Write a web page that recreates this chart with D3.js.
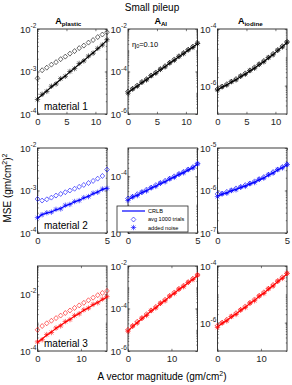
<!DOCTYPE html>
<html>
<head>
<meta charset="utf-8">
<script src="https://cdnjs.cloudflare.com/ajax/libs/d3/7.8.5/d3.min.js"></script>
<style>
body { margin: 0; background: #fff; }
svg { display: block; font-family: "Liberation Sans", Arial, sans-serif; }
</style>
</head>
<body>
<svg id="chart" width="292" height="385"></svg>
<script>
// x values (A vector magnitude) per material row
var xMaterial1 = [0, 0.8, 1.6, 2.4, 3.2, 4, 4.8, 5.6, 6.4, 7.2, 8, 8.8, 9.6, 10.4, 11.2, 12];
var xMaterial2 = [0, 0.33, 0.67, 1, 1.33, 1.67, 2, 2.33, 2.67, 3, 3.33, 3.67, 4, 4.33, 4.67, 5];
var xMaterial3 = [0, 1.07, 2.13, 3.2, 4.27, 5.33, 6.4, 7.47, 8.53, 9.6, 10.67, 11.73, 12.8, 13.87, 14.93, 16];

// material 1
var crlb1Plastic = [2.3e-4, 2.8e-4, 3.5e-4, 4.3e-4, 5.3e-4, 6.5e-4, 7.9e-4, 9.8e-4, 1.2e-3, 1.48e-3, 1.82e-3, 2.24e-3, 2.75e-3, 3.4e-3, 4.3e-3, 5.4e-3];
var avg1Plastic = [6.9e-4, 1.07e-3, 1.23e-3, 1.45e-3, 1.66e-3, 1.95e-3, 2.24e-3, 2.63e-3, 3.02e-3, 3.55e-3, 4.07e-3, 4.79e-3, 5.5e-3, 6.46e-3, 7.41e-3, 8.4e-3];
var noise1Plastic = [2.2e-4, 2.9e-4, 3.4e-4, 4.5e-4, 5.1e-4, 6.8e-4, 7.7e-4, 1.0e-3, 1.17e-3, 1.55e-3, 1.78e-3, 2.3e-3, 2.7e-3, 3.5e-3, 4.2e-3, 5.6e-3];
var crlb1Al = [1.02e-5, 1.45e-5, 2.09e-5, 2.95e-5, 4.17e-5, 6.03e-5, 8.51e-5, 1.2e-4, 1.7e-4, 2.45e-4, 3.47e-4, 4.9e-4, 7.08e-4, 1.0e-3, 1.41e-3, 2.0e-3];
var avg1Al = [1.15e-5, 1.55e-5, 2.2e-5, 3.2e-5, 4.4e-5, 6.5e-5, 9.0e-5, 1.3e-4, 1.8e-4, 2.6e-4, 3.7e-4, 5.2e-4, 7.5e-4, 1.06e-3, 1.5e-3, 2.15e-3];
var noise1Al = [0.95e-5, 1.5e-5, 2.0e-5, 3.1e-5, 4.0e-5, 6.3e-5, 8.2e-5, 1.25e-4, 1.65e-4, 2.55e-4, 3.35e-4, 5.1e-4, 6.9e-4, 1.04e-3, 1.36e-3, 2.08e-3];
var crlb1Iodine = [7.2e-7, 8.8e-7, 1.08e-6, 1.33e-6, 1.65e-6, 2.07e-6, 2.6e-6, 3.3e-6, 4.24e-6, 5.48e-6, 7.18e-6, 9.5e-6, 1.27e-5, 1.73e-5, 2.38e-5, 3.33e-5];
var avg1Iodine = [7.6e-7, 9.3e-7, 1.13e-6, 1.4e-6, 1.72e-6, 2.18e-6, 2.72e-6, 3.45e-6, 4.45e-6, 5.7e-6, 7.5e-6, 9.9e-6, 1.33e-5, 1.8e-5, 2.48e-5, 3.5e-5];
var noise1Iodine = [7.0e-7, 9.1e-7, 1.04e-6, 1.38e-6, 1.6e-6, 2.15e-6, 2.52e-6, 3.42e-6, 4.1e-6, 5.65e-6, 6.95e-6, 9.8e-6, 1.23e-5, 1.78e-5, 2.3e-5, 3.45e-5];

// material 2
var crlb2Plastic = [2.22e-4, 2.75e-4, 2.91e-4, 3.17e-4, 3.48e-4, 3.81e-4, 4.32e-4, 4.81e-4, 5.36e-4, 5.97e-4, 6.55e-4, 7.43e-4, 8.28e-4, 9.38e-4, 1.05e-3, 1.16e-3];
var avg2Plastic = [6.3e-4, 5.8e-4, 6.2e-4, 6.8e-4, 7.6e-4, 8.3e-4, 9.1e-4, 1.0e-3, 1.1e-3, 1.22e-3, 1.35e-3, 1.5e-3, 1.68e-3, 1.9e-3, 2.2e-3, 3.1e-3];
var noise2Plastic = [2.3e-4, 2.7e-4, 3.0e-4, 3.1e-4, 3.6e-4, 3.7e-4, 4.5e-4, 4.7e-4, 5.5e-4, 5.8e-4, 6.8e-4, 7.2e-4, 8.6e-4, 9.1e-4, 1.08e-3, 1.12e-3];
var crlb2Al = [1.45e-5, 1.82e-5, 2.19e-5, 2.63e-5, 3.16e-5, 3.8e-5, 4.57e-5, 5.5e-5, 6.6e-5, 7.94e-5, 9.55e-5, 1.15e-4, 1.38e-4, 1.66e-4, 2.04e-4, 2.69e-4];
var avg2Al = [1.65e-5, 1.9e-5, 2.35e-5, 2.75e-5, 3.4e-5, 4.0e-5, 4.9e-5, 5.8e-5, 7.0e-5, 8.3e-5, 1.0e-4, 1.2e-4, 1.45e-4, 1.74e-4, 2.12e-4, 2.8e-4];
var noise2Al = [1.4e-5, 1.9e-5, 2.1e-5, 2.75e-5, 3.05e-5, 3.95e-5, 4.4e-5, 5.7e-5, 6.4e-5, 8.2e-5, 9.2e-5, 1.19e-4, 1.33e-4, 1.72e-4, 1.98e-4, 2.78e-4];
var crlb2Iodine = [7.41e-7, 8.13e-7, 8.91e-7, 9.77e-7, 1.07e-6, 1.17e-6, 1.29e-6, 1.41e-6, 1.58e-6, 1.78e-6, 2.0e-6, 2.29e-6, 2.63e-6, 3.02e-6, 3.47e-6, 3.98e-6];
var avg2Iodine = [8.3e-7, 8.4e-7, 9.3e-7, 1.01e-6, 1.12e-6, 1.21e-6, 1.34e-6, 1.46e-6, 1.64e-6, 1.84e-6, 2.07e-6, 2.37e-6, 2.72e-6, 3.12e-6, 3.58e-6, 4.1e-6];
var noise2Iodine = [7.2e-7, 8.4e-7, 8.6e-7, 1.0e-6, 1.04e-6, 1.2e-6, 1.25e-6, 1.45e-6, 1.54e-6, 1.83e-6, 1.95e-6, 2.35e-6, 2.57e-6, 3.1e-6, 3.4e-6, 4.08e-6];

// material 3
var crlb3Plastic = [2.0e-4, 2.69e-4, 3.59e-4, 4.73e-4, 6.19e-4, 8.05e-4, 1.04e-3, 1.33e-3, 1.7e-3, 2.15e-3, 2.7e-3, 3.39e-3, 4.23e-3, 5.25e-3, 6.49e-3, 7.98e-3];
var avg3Plastic = [5.6e-4, 7.6e-4, 9.5e-4, 1.17e-3, 1.45e-3, 1.78e-3, 2.19e-3, 2.69e-3, 3.31e-3, 4.07e-3, 5.01e-3, 6.17e-3, 7.59e-3, 9.33e-3, 1.12e-2, 1.32e-2];
var noise3Plastic = [2.1e-4, 2.5e-4, 3.8e-4, 4.5e-4, 6.5e-4, 7.7e-4, 1.09e-3, 1.28e-3, 1.78e-3, 2.06e-3, 2.83e-3, 3.25e-3, 4.4e-3, 5.05e-3, 6.8e-3, 8.3e-3];
var crlb3Al = [8.9e-6, 1.41e-5, 2.19e-5, 3.31e-5, 5.01e-5, 7.59e-5, 1.12e-4, 1.66e-4, 2.45e-4, 3.63e-4, 5.37e-4, 7.76e-4, 1.12e-3, 1.62e-3, 2.4e-3, 3.55e-3];
var avg3Al = [1.0e-5, 1.5e-5, 2.4e-5, 3.5e-5, 5.4e-5, 8.1e-5, 1.2e-4, 1.78e-4, 2.6e-4, 3.9e-4, 5.7e-4, 8.3e-4, 1.19e-3, 1.73e-3, 2.55e-3, 3.8e-3];
var noise3Al = [8.5e-6, 1.5e-5, 2.05e-5, 3.5e-5, 4.7e-5, 8.0e-5, 1.06e-4, 1.75e-4, 2.3e-4, 3.85e-4, 5.1e-4, 8.2e-4, 1.06e-3, 1.7e-3, 2.3e-3, 3.75e-3];
var crlb3Iodine = [7.24e-7, 9.33e-7, 1.21e-6, 1.57e-6, 2.05e-6, 2.69e-6, 3.55e-6, 4.7e-6, 6.25e-6, 8.36e-6, 1.12e-5, 1.51e-5, 2.05e-5, 2.79e-5, 3.82e-5, 5.25e-5];
var avg3Iodine = [7.8e-7, 1.0e-6, 1.28e-6, 1.66e-6, 2.16e-6, 2.84e-6, 3.74e-6, 4.95e-6, 6.6e-6, 8.8e-6, 1.18e-5, 1.59e-5, 2.15e-5, 2.93e-5, 4.0e-5, 5.5e-5];
var noise3Iodine = [6.8e-7, 9.8e-7, 1.15e-6, 1.65e-6, 1.95e-6, 2.82e-6, 3.4e-6, 4.95e-6, 5.95e-6, 8.8e-6, 1.07e-5, 1.58e-5, 1.96e-5, 2.92e-5, 3.65e-5, 5.5e-5];

// axes ranges and tick labels
var xMax = [12, 5, 16];
var xTicks = [[0, 5, 10], [0, 5], [0, 10]];
var yDomains = [
    [[1e-4, 1e-2], [1e-6, 1e-2], [1e-7, 1e-4]],
    [[1e-4, 1e-2], [1e-6, 1e-3], [1e-7, 1e-5]],
    [[1e-4, 1e-1], [1e-6, 1e-2], [1e-7, 1e-4]]
];
var yTicks = [
    [[1e-4, 1e-3, 1e-2], [1e-6, 1e-4, 1e-2], [1e-6, 1e-4]],
    [[1e-4, 1e-3, 1e-2], [1e-6, 1e-4], [1e-7, 1e-6, 1e-5]],
    [[1e-4, 1e-2], [1e-6, 1e-4, 1e-2], [1e-6, 1e-4]]
];

var colTitles = [["A", "plastic"], ["A", "Al"], ["A", "iodine"]];
var materialLabels = ["material 1", "material 2", "material 3"];
var rowColors = ["#000000", "#0000ff", "#ff0000"];
var legendLabels = ["CRLB", "avg 1000 trials", "added noise"];

var xValues = [xMaterial1, xMaterial2, xMaterial3];
var crlb = [[crlb1Plastic, crlb1Al, crlb1Iodine], [crlb2Plastic, crlb2Al, crlb2Iodine], [crlb3Plastic, crlb3Al, crlb3Iodine]];
var avgTrials = [[avg1Plastic, avg1Al, avg1Iodine], [avg2Plastic, avg2Al, avg2Iodine], [avg3Plastic, avg3Al, avg3Iodine]];
var addedNoise = [[noise1Plastic, noise1Al, noise1Iodine], [noise2Plastic, noise2Al, noise2Iodine], [noise3Plastic, noise3Al, noise3Iodine]];

var svg = d3.select("#chart");
var colLeft = [37.5, 128, 217.5];
var rowTop = [29, 148, 266];
var panelW = 69.5, panelH = 85;
var axisColor = "#262626";

var diamondPath = "M0,-2.5L2.3,0L0,2.5L-2.3,0Z";
var starPath = "M-2.7,0H2.7M0,-2.7V2.7M-1.9,-1.9L1.9,1.9M-1.9,1.9L1.9,-1.9";

for (var r = 0; r < 3; r++) {
    for (var c = 0; c < 3; c++) {
        drawPanel(r, c);
    }
}
drawTitles();
drawLegend();

function minorTicks(domain) {
    var out = [];
    var lo = Math.round(Math.log10(domain[0])), hi = Math.round(Math.log10(domain[1]));
    for (var e = lo; e < hi; e++) {
        for (var k = 1; k < 10; k++) {
            out.push(k * Math.pow(10, e));
        }
    }
    return out;
}

function styleAxis(g) {
    g.select(".domain").remove();
    g.selectAll("line").attr("stroke", axisColor).attr("stroke-width", 0.6);
    g.attr("font-family", null).attr("font-size", null);
}

function drawPanel(r, c) {
    var g = svg.append("g").attr("transform", "translate(" + colLeft[c] + "," + rowTop[r] + ")");
    var x = d3.scaleLinear().domain([0, xMax[r]]).range([0, panelW]);
    var y = d3.scaleLog().domain(yDomains[r][c]).range([panelH, 0]);
    var color = rowColors[r];
    var xs = xValues[r];
    var minor = minorTicks(yDomains[r][c]);

    g.append("g").call(d3.axisLeft(y).tickValues(minor).tickSize(-1.2).tickFormat("")).call(styleAxis);
    g.append("g").attr("transform", "translate(" + panelW + ",0)")
        .call(d3.axisRight(y).tickValues(minor).tickSize(-1.2).tickFormat("")).call(styleAxis);

    var yAxis = g.append("g")
        .call(d3.axisLeft(y).tickValues(yTicks[r][c]).tickSize(-2.2).tickPadding(1.2))
        .call(styleAxis);
    yAxis.selectAll(".tick text").each(function(d) {
        var t = d3.select(this);
        t.text(null).attr("fill", axisColor).attr("font-size", 9.5).attr("dy", "0.36em");
        t.append("tspan").text("10");
        t.append("tspan").attr("font-size", 6.5).attr("dy", "-0.75em").text(Math.round(Math.log10(d)));
    });
    g.append("g").attr("transform", "translate(" + panelW + ",0)")
        .call(d3.axisRight(y).tickValues(yTicks[r][c]).tickSize(-2.2).tickFormat(""))
        .call(styleAxis);

    var xAxis = g.append("g").attr("transform", "translate(0," + panelH + ")")
        .call(d3.axisBottom(x).tickValues(xTicks[r]).tickSize(-2.2).tickPadding(4.5).tickFormat(d3.format("d")))
        .call(styleAxis);
    xAxis.selectAll(".tick text").attr("fill", axisColor).attr("font-size", 9.5);
    g.append("g")
        .call(d3.axisTop(x).tickValues(xTicks[r]).tickSize(-2.2).tickFormat(""))
        .call(styleAxis);

    g.append("rect")
        .attr("width", panelW)
        .attr("height", panelH)
        .attr("fill", "none")
        .attr("stroke", axisColor)
        .attr("stroke-width", 0.9);

    var line = d3.line()
        .x(function(d, i) { return x(xs[i]); })
        .y(function(d) { return y(d); });

    g.append("path")
        .attr("d", line(crlb[r][c]))
        .attr("fill", "none")
        .attr("stroke", color)
        .attr("stroke-width", 1.2);

    g.selectAll("path.avg").data(avgTrials[r][c]).enter().append("path")
        .attr("class", "avg")
        .attr("transform", function(d, i) { return "translate(" + x(xs[i]) + "," + y(d) + ")"; })
        .attr("d", diamondPath)
        .attr("fill", "none")
        .attr("stroke", color)
        .attr("stroke-width", 0.6);

    g.selectAll("path.noise").data(addedNoise[r][c]).enter().append("path")
        .attr("class", "noise")
        .attr("transform", function(d, i) { return "translate(" + x(xs[i]) + "," + y(d) + ")"; })
        .attr("d", starPath)
        .attr("fill", "none")
        .attr("stroke", color)
        .attr("stroke-width", 0.6);

    if (c == 0) {
        g.append("text")
            .attr("x", 6.5)
            .attr("y", panelH - 4.5)
            .attr("font-size", 10)
            .attr("fill", "#000")
            .text(materialLabels[r]);
    }
}

function drawTitles() {
    svg.append("text")
        .attr("x", 152)
        .attr("y", 10.5)
        .attr("text-anchor", "middle")
        .attr("font-size", 10)
        .attr("fill", "#000")
        .text("Small pileup");

    var shift = [-4, -2, -2];
    colTitles.forEach(function(t, i) {
        var txt = svg.append("text")
            .attr("x", colLeft[i] + panelW / 2 + shift[i])
            .attr("y", 23.5)
            .attr("text-anchor", "middle")
            .attr("font-weight", "bold")
            .attr("font-size", 9)
            .attr("fill", "#000");
        txt.append("tspan").text(t[0]);
        txt.append("tspan").attr("font-size", 6.2).attr("dy", 2).text(t[1]);
    });

    var eta = svg.append("text")
        .attr("x", 132)
        .attr("y", 46.5)
        .attr("font-size", 7.5)
        .attr("fill", "#000");
    eta.append("tspan").text("\u03b7");
    eta.append("tspan").attr("font-size", 5.5).attr("dy", 1.5).text("0");
    eta.append("tspan").attr("dy", -1.5).text("=0.10");

    var ylab = svg.append("text")
        .attr("transform", "translate(11,188) rotate(-90)")
        .attr("text-anchor", "middle")
        .attr("font-size", 10)
        .attr("fill", "#000");
    ylab.append("tspan").text("MSE (gm/cm");
    ylab.append("tspan").attr("font-size", 7).attr("dy", -4).text("2");
    ylab.append("tspan").attr("dy", 4).text(")");
    ylab.append("tspan").attr("font-size", 7).attr("dy", -4).text("2");

    var xlab = svg.append("text")
        .attr("x", 162)
        .attr("y", 380)
        .attr("text-anchor", "middle")
        .attr("font-size", 10)
        .attr("fill", "#000");
    xlab.append("tspan").text("A vector magnitude (gm/cm");
    xlab.append("tspan").attr("font-size", 7).attr("dy", -4).text("2");
    xlab.append("tspan").attr("dy", 4).text(")");
}

function drawLegend() {
    var lg = svg.append("g").attr("transform", "translate(117,206)");
    lg.append("rect")
        .attr("width", 71)
        .attr("height", 26)
        .attr("fill", "#fff")
        .attr("stroke", axisColor)
        .attr("stroke-width", 0.8);
    lg.append("line")
        .attr("x1", 5).attr("x2", 28)
        .attr("y1", 5).attr("y2", 5)
        .attr("stroke", "#0000ff")
        .attr("stroke-width", 1.2);
    lg.append("path")
        .attr("transform", "translate(16.5,13.5)")
        .attr("d", diamondPath)
        .attr("fill", "none").attr("stroke", "#0000ff").attr("stroke-width", 0.6);
    lg.append("path")
        .attr("transform", "translate(16.5,21.5)")
        .attr("d", starPath)
        .attr("fill", "none").attr("stroke", "#0000ff").attr("stroke-width", 0.6);
    lg.selectAll("text.lbl").data(legendLabels).enter().append("text")
        .attr("class", "lbl")
        .attr("x", 31)
        .attr("y", function(d, i) { return 7 + i * 8.3; })
        .attr("font-size", 5.6)
        .attr("fill", "#000")
        .text(function(d) { return d; });
}
</script>
</body>
</html>
